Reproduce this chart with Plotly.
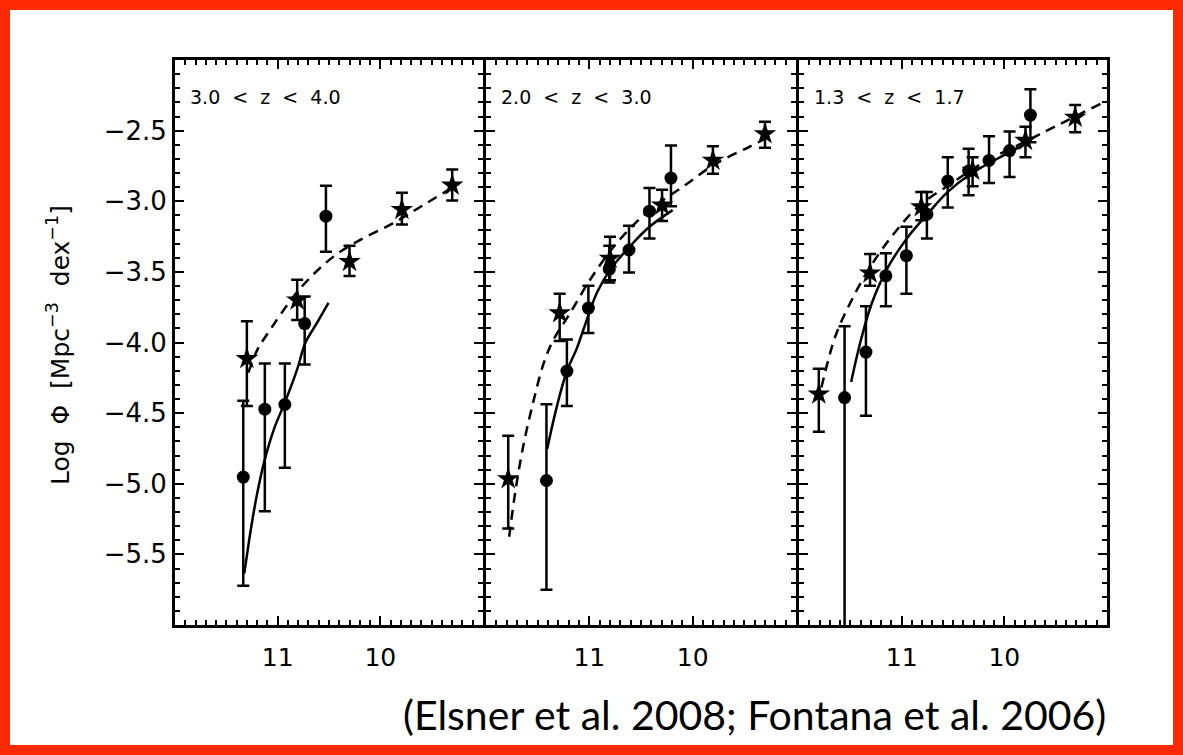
import plotly.graph_objects as go

# ---- redshift bins ----
bin_labels = ["3.0 < z < 4.0", "2.0 < z < 3.0", "1.3 < z < 1.7"]

# ---- Elsner et al. 2008 (filled circles): log M, log Phi, +err, -err ----
els_x = [
    [11.335, 11.125, 10.93, 10.737, 10.53],
    [11.415, 11.217, 11.009, 10.807, 10.616, 10.418, 10.21],
    [11.556, 11.348, 11.154, 10.954, 10.754, 10.551, 10.348, 10.149, 9.949, 9.746],
]
els_y = [
    [-4.953, -4.472, -4.439, -3.866, -3.106],
    [-4.977, -4.202, -3.756, -3.481, -3.345, -3.070, -2.836],
    [-4.390, -4.068, -3.528, -3.385, -3.092, -2.857, -2.786, -2.711, -2.641, -2.390],
]
els_up = [
    [0.54, 0.324, 0.291, 0.192, 0.216],
    [0.54, 0.223, 0.157, 0.166, 0.171, 0.164, 0.23],
    [0.505, 0.324, 0.16, 0.204, 0.158, 0.169, 0.157, 0.171, 0.134, 0.183],
]
els_dn = [
    [0.77, 0.723, 0.448, 0.289, 0.251],
    [0.774, 0.247, 0.176, 0.094, 0.16, 0.193, 0.199],
    [2.5, 0.451, 0.216, 0.27, 0.171, 0.188, 0.172, 0.16, 0.188, 0.192],
]

# ---- Fontana et al. 2006 (stars) ----
fon_x = [
    [11.30, 10.81, 10.30, 9.79, 9.30],
    [11.785, 11.287, 10.80, 10.296, 9.804, 9.30],
    [11.807, 11.308, 10.809, 10.309, 9.794, 9.31],
]
fon_y = [
    [-4.115, -3.70, -3.427, -3.059, -2.887],
    [-4.965, -3.791, -3.404, -3.028, -2.711, -2.523],
    [-4.366, -3.509, -3.040, -2.782, -2.570, -2.406],
]
fon_up = [
    [0.265, 0.144, 0.112, 0.119, 0.112],
    [0.305, 0.136, 0.153, 0.11, 0.10, 0.086],
    [0.181, 0.136, 0.106, 0.094, 0.098, 0.087],
]
fon_dn = [
    [0.335, 0.14, 0.103, 0.105, 0.108],
    [0.352, 0.199, 0.155, 0.111, 0.094, 0.099],
    [0.266, 0.09, 0.094, 0.112, 0.118, 0.106],
]

# ---- Schechter fits, sampled along the curves ----
els_fit_x = [
    [11.325, 11.299, 11.26, 11.203, 11.132, 11.036, 10.933, 10.81, 10.73, 10.617, 10.505],
    [11.408, 11.313, 11.217, 11.12, 11.057, 10.928, 10.80, 10.61, 10.418, 10.194],
    [11.492, 11.404, 11.29, 11.13, 10.937, 10.744, 10.551, 10.325, 10.068, 9.794],
]
els_fit_y = [
    [-5.634, -5.505, -5.317, -5.082, -4.847, -4.613, -4.430, -4.190, -4.002, -3.861, -3.720],
    [-4.754, -4.449, -4.202, -4.04, -3.908, -3.65, -3.486, -3.322, -3.181, -3.063],
    [-4.28, -4.002, -3.72, -3.463, -3.251, -3.087, -2.934, -2.805, -2.699, -2.594],
]
fon_fit_x = [
    [11.286, 11.196, 11.116, 10.778, 10.457, 10.2, 9.879, 9.556, 9.235],
    [11.776, 11.712, 11.632, 11.536, 11.44, 11.346, 11.185, 10.993, 10.737, 10.418,
     10.098, 9.779, 9.46, 9.30],
    [11.782, 11.646, 11.501, 11.324, 11.099, 10.841, 10.519, 10.197, 9.81, 9.488, 9.037],
]
fon_fit_y = [
    [-4.213, -4.049, -3.956, -3.615, -3.392, -3.275, -3.157, -3.016, -2.875],
    [-5.375, -5.035, -4.706, -4.401, -4.143, -3.979, -3.791, -3.556, -3.298, -3.063,
     -2.899, -2.735, -2.618, -2.558],
    [-4.319, -3.956, -3.72, -3.486, -3.251, -3.040, -2.875, -2.723, -2.582, -2.465, -2.30],
]

x_tick_vals = [11, 10]
x_tick_text = ["11", "10"]
y_tick_vals = [-2.5, -3.0, -3.5, -4.0, -4.5, -5.0, -5.5]
y_tick_text = ["\u22122.5", "\u22123.0", "\u22123.5", "\u22124.0", "\u22124.5", "\u22125.0", "\u22125.5"]

AX_FONT = "DejaVu Sans"
NOTE_FONT = "Lato"
W, H = 1183, 755
L, R, T, B = 175, 76, 60, 130
PW, PH = W - L - R, H - T - B
LW = 3  # frame line width

# panel edges (px, measured from the plot-area left edge); neighbouring frames
# share one line, so each inner domain is pulled in by the line width
edges_px = [(0, 308), (311, 621), (624, 932)]
domains = [[a / PW, b / PW] for a, b in edges_px]

fig = go.Figure()

for i in range(3):
    xa = "x" if i == 0 else f"x{i + 1}"
    ya = "y" if i == 0 else f"y{i + 1}"
    fig.add_trace(go.Scatter(
        x=els_fit_x[i], y=els_fit_y[i], mode="lines", line_shape="spline",
        line=dict(color="black", width=2.5), xaxis=xa, yaxis=ya, showlegend=False))
    fig.add_trace(go.Scatter(
        x=fon_fit_x[i], y=fon_fit_y[i], mode="lines", line_shape="spline",
        line=dict(color="black", width=2.5, dash="10px,7px"), xaxis=xa, yaxis=ya,
        showlegend=False))
    fig.add_trace(go.Scatter(
        x=els_x[i], y=els_y[i], mode="markers",
        marker=dict(symbol="circle", size=13, color="black"),
        error_y=dict(type="data", symmetric=False, array=els_up[i], arrayminus=els_dn[i],
                     color="black", thickness=2.5, width=6),
        xaxis=xa, yaxis=ya, showlegend=False))
    fig.add_trace(go.Scatter(
        x=fon_x[i], y=fon_y[i], mode="markers",
        marker=dict(symbol="star", size=17, color="black"),
        error_y=dict(type="data", symmetric=False, array=fon_up[i], arrayminus=fon_dn[i],
                     color="black", thickness=2.5, width=6),
        xaxis=xa, yaxis=ya, showlegend=False))

axis_common = dict(
    showline=True, linecolor="black", linewidth=LW, mirror="allticks",
    ticks="inside", ticklen=9, tickwidth=2, tickcolor="black",
    showgrid=False, zeroline=False,
)

layout = dict(
    width=W, height=H,
    margin=dict(l=L, r=R, t=T, b=B),
    paper_bgcolor="white", plot_bgcolor="white",
    font=dict(family=AX_FONT, color="black"),
)
for i in range(3):
    xk = "xaxis" if i == 0 else f"xaxis{i + 1}"
    yk = "yaxis" if i == 0 else f"yaxis{i + 1}"
    xa_name = "x" if i == 0 else f"x{i + 1}"
    ya_name = "y" if i == 0 else f"y{i + 1}"
    layout[xk] = dict(
        axis_common, domain=domains[i], range=[12, 9], anchor=ya_name,
        tickmode="array", tickvals=x_tick_vals, ticktext=x_tick_text,
        tickfont=dict(size=25, family=AX_FONT), ticklabelstandoff=8,
        minor=dict(ticks="inside", dtick=0.1, tick0=9, ticklen=5, tickwidth=1.5,
                   tickcolor="black"),
    )
    layout[yk] = dict(
        axis_common, domain=[0, 1], range=[-6, -2], anchor=xa_name,
        tickmode="array", tickvals=y_tick_vals, ticktext=y_tick_text,
        showticklabels=(i == 0), tickfont=dict(size=26, family=AX_FONT),
        minor=dict(ticks="inside", dtick=0.1, tick0=-6, ticklen=5, tickwidth=1.5,
                   tickcolor="black"),
    )
fig.update_layout(**layout)

# redshift bin labels
for i in range(3):
    xr = "x domain" if i == 0 else f"x{i + 1} domain"
    yr = "y domain" if i == 0 else f"y{i + 1} domain"
    fig.add_annotation(
        x=0.042, y=(T + PH - 97) / PH, xref=xr, yref=yr, xanchor="left",
        yanchor="middle",
        text=bin_labels[i].replace(" ", "\u00a0\u00a0"), showarrow=False,
        font=dict(size=19, family=AX_FONT, color="black"))

# y-axis title
fig.add_annotation(
    x=(58 - L) / PW, y=(T + PH - 345) / PH, xref="paper", yref="paper", textangle=-90,
    text="Log\u00a0\u00a0\u03a6\u00a0\u00a0[Mpc<sup>\u22123</sup>\u00a0\u00a0dex<sup>\u22121</sup>]",
    showarrow=False, xanchor="center", yanchor="middle",
    font=dict(size=25, family=AX_FONT, color="black"))

# citation
fig.add_annotation(
    x=(1108 - L) / PW, y=(T + PH - 714) / PH, xref="paper", yref="paper",
    text="(Elsner et al. 2008; Fontana et al. 2006)", showarrow=False,
    xanchor="right", yanchor="middle", font=dict(size=41, family=NOTE_FONT, color="black"))

# red frame around the figure
fig.add_shape(
    type="rect", xref="paper", yref="paper",
    x0=(0 - L) / PW, x1=(W - L) / PW, y0=(T + PH - H) / PH, y1=(T + PH) / PH,
    line=dict(color="#FF2A00", width=20), fillcolor="rgba(0,0,0,0)", layer="above")

fig.write_html("out.html")
